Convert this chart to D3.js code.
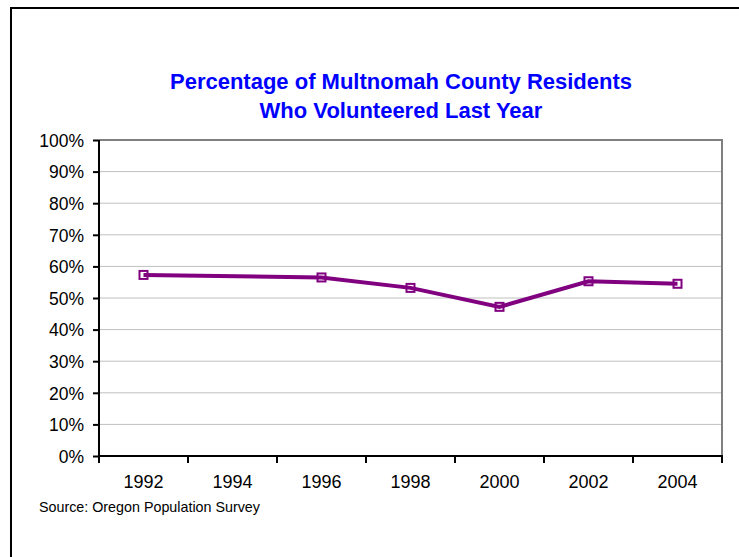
<!DOCTYPE html>
<html>
<head>
<meta charset="utf-8">
<script src="https://cdn.jsdelivr.net/npm/d3@7"></script>
<style>
  body { margin: 0; background: #fff; }
  svg { display: block; font-family: "Liberation Sans", Arial, sans-serif; }
  .grid line { stroke: #c0c0c0; stroke-width: 1; }
  .axis path, .axis line { stroke: #000; stroke-width: 2; }
  .axis text { fill: #000; }
</style>
</head>
<body>
<script>
(function(){
    //chart data
    var years = ["1992", "1994", "1996", "1998", "2000", "2002", "2004"];
    var volunteered = [57.3, null, 56.5, 53.2, 47.2, 55.3, 54.5];
    var yTicks = [0, 10, 20, 30, 40, 50, 60, 70, 80, 90, 100];
    var titleLines = ["Percentage of Multnomah County Residents", "Who Volunteered Last Year"];
    var source = "Source: Oregon Population Survey";

    var width = 739,
        height = 557;

    //plot frame
    var left = 99, right = 722, top = 140, bottom = 456;

    var svg = d3.select("body")
        .append("svg")
        .attr("width", width)
        .attr("height", height);

    //outer chart border (only top and left show in the frame)
    svg.append("rect")
        .attr("x", 11)
        .attr("y", 8)
        .attr("width", 760)
        .attr("height", 600)
        .attr("fill", "#fff")
        .attr("stroke", "#000")
        .attr("stroke-width", 2);

    //title
    svg.append("text")
        .attr("text-anchor", "middle")
        .attr("fill", "#0000ff")
        .style("font-weight", "bold")
        .style("font-size", "22px")
        .selectAll("tspan")
        .data(titleLines)
        .enter()
        .append("tspan")
        .attr("x", 401)
        .attr("y", function(d, i){ return 89 + i * 29; })
        .text(function(d){ return d; });

    var x = d3.scaleBand()
        .domain(years)
        .range([left, right]);

    var y = d3.scaleLinear()
        .domain([0, 100])
        .range([bottom, top]);

    //horizontal gridlines
    svg.append("g")
        .attr("class", "grid")
        .selectAll("line")
        .data(yTicks.slice(1, -1))
        .enter()
        .append("line")
        .attr("x1", left)
        .attr("x2", right)
        .attr("y1", function(d){ return y(d); })
        .attr("y2", function(d){ return y(d); });

    //plot area top and right edges
    svg.append("path")
        .attr("d", "M" + left + "," + top + "H" + right + "V" + bottom)
        .attr("fill", "none")
        .attr("stroke", "#808080")
        .attr("stroke-width", 2);

    //y axis
    var yAxis = svg.append("g")
        .attr("class", "axis")
        .attr("transform", "translate(" + left + ",0)")
        .call(d3.axisLeft(y)
            .tickValues(yTicks)
            .tickSize(6)
            .tickPadding(9)
            .tickFormat(function(d){ return d + "%"; }));
    yAxis.select(".domain").attr("d", "M0," + top + "V" + (bottom + 1));
    yAxis.selectAll("text").style("font-size", "17.5px").attr("dy", "0.36em");

    //x axis, ticks between categories
    var xAxis = svg.append("g")
        .attr("class", "axis")
        .attr("transform", "translate(0," + bottom + ")")
        .call(d3.axisBottom(x).tickSize(0).tickPadding(19));
    xAxis.select(".domain").attr("d", "M" + (left - 1) + ",0H" + (right + 1));
    xAxis.selectAll("text").style("font-size", "18px");

    var bounds = years.map(function(d){ return x(d); }).concat([right]);
    xAxis.selectAll(".between")
        .data(bounds)
        .enter()
        .append("line")
        .attr("class", "between")
        .attr("x1", function(d){ return d; })
        .attr("x2", function(d){ return d; })
        .attr("y1", 0)
        .attr("y2", 7)
        .attr("stroke", "#000")
        .attr("stroke-width", 2);

    //series
    var points = years.map(function(d, i){
        return {year: d, value: volunteered[i]};
    }).filter(function(d){ return d.value !== null; });

    var cx = function(d){ return x(d.year) + x.bandwidth() / 2; };

    svg.selectAll(".marker")
        .data(points)
        .enter()
        .append("rect")
        .attr("class", "marker")
        .attr("x", function(d){ return cx(d) - 4; })
        .attr("y", function(d){ return y(d.value) - 4; })
        .attr("width", 8)
        .attr("height", 8)
        .attr("fill", "#fff")
        .attr("stroke", "#800080")
        .attr("stroke-width", 2);

    var line = d3.line()
        .x(cx)
        .y(function(d){ return y(d.value); });

    svg.append("path")
        .datum(points)
        .attr("d", line)
        .attr("fill", "none")
        .attr("stroke", "#800080")
        .attr("stroke-width", 4);

    //source note
    svg.append("text")
        .attr("x", 39)
        .attr("y", 512)
        .style("font-size", "14.3px")
        .attr("fill", "#000")
        .text(source);
})();
</script>
</body>
</html>
